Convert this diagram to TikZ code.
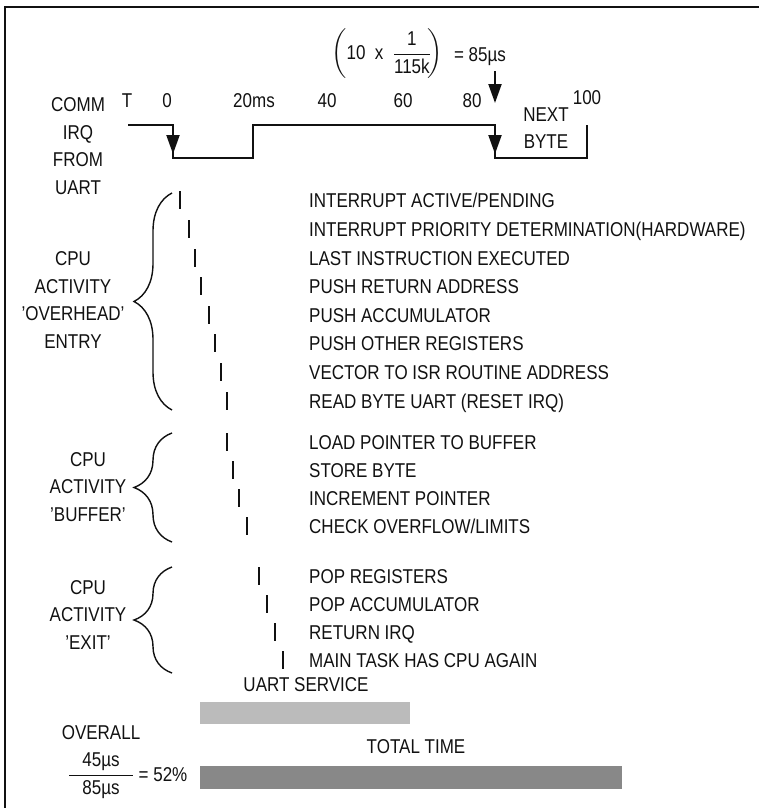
\documentclass[tikz,border=0pt]{standalone}
\usepackage{amsmath}
\usepackage{fontspec}
\setmainfont[FakeStretch=0.85]{Liberation Sans}
\usepackage{tikz}
\usetikzlibrary{positioning,arrows.meta,decorations.pathreplacing}
\definecolor{ink}    {HTML}{111111}
\definecolor{svcgray}{HTML}{BBBBBB}
\definecolor{totgray}{HTML}{888888}
\tikzset{
  every node/.style={font=\fontsize{20}{27.5}\selectfont, text=ink, inner sep=0pt},
  % --- text
  act/.style  = {anchor=base west},
  side/.style = {align=center},
  tlbl/.style = {anchor=base},
  % --- lines
  sig/.style  = {draw=ink, line width=2pt},
  tk/.style   = {draw=ink, line width=2pt},
  brc/.style  = {draw=ink, line width=1.4pt, decorate, decoration={brace, amplitude=38pt}},
  hd/.style   = {-{Triangle[length=19pt,width=13pt]}, draw=ink, line width=2pt},
  bar/.style  = {anchor=north west, minimum height=22pt},
}

\begin{document}
\begin{tikzpicture}[x=1pt, y=-1pt]
  \useasboundingbox (0,0) rectangle (759,808);
  \draw[line width=2.5pt, draw=ink] (5,808) -- (5,7) -- (759,7);

  % --- formula
  \node (frml) at (387,54) {$\left(\text{10\ \ x\ \ }\dfrac{\text{1}}{\text{115k}}\!\right)$};
  \node (frmr) at (480,57) {= 85µs};
  \coordinate (nb) at (495,103);
  \draw[hd] ([yshift=-5pt]frmr.south -| nb) -- (nb);

  % --- time axis
  \node[tlbl] (tT)   at (127,107) {T};
  \node[tlbl] (t0)   at (167,107) {0};
  \node[tlbl] (t20)  at (254,107) {20ms};
  \node[tlbl] (t40)  at (327,107) {40};
  \node[tlbl] (t60)  at (403,107) {60};
  \node[tlbl] (t80)  at (472,107) {80};
  \node[tlbl] (t100) at (587,104) {100};

  \node[side] (comm) at (78,146) {COMM\\IRQ\\FROM\\UART};
  \node[side] (nxt)  at (546,128) {NEXT\\BYTE};

  % --- IRQ line
  \draw[sig] (128,125) -- (173,125) -- (173,158) -- (253,158) -- (253,125)
             -- (495,125) -- (495,158) -- (587,158) -- (587,125);
  \draw[hd] (173,125) -- (173,154);
  \draw[hd] (495,125) -- (495,154);

  % --- overhead entry
  \node[side] (ovh) at (73,300) {CPU\\ACTIVITY\\'OVERHEAD'\\ENTRY};
  \draw[brc] (172,410) -- (172,193);
  \node[act] (pend) at (309,207) {INTERRUPT ACTIVE/PENDING};
  \node[act] (prio) at (309,236) {INTERRUPT PRIORITY DETERMINATION(HARDWARE)};
  \node[act] (last) at (309,265) {LAST INSTRUCTION EXECUTED};
  \node[act] (pret) at (309,293) {PUSH RETURN ADDRESS};
  \node[act] (pacc) at (309,322) {PUSH ACCUMULATOR};
  \node[act] (poth) at (309,350) {PUSH OTHER REGISTERS};
  \node[act] (vec)  at (309,379) {VECTOR TO ISR ROUTINE ADDRESS};
  \node[act] (rdb)  at (309,408) {READ BYTE UART (RESET IRQ)};
  \draw[tk] (180,191) -- (180,209);
  \draw[tk] (189,220) -- (189,238);
  \draw[tk] (195,249) -- (195,267);
  \draw[tk] (201,277) -- (201,295);
  \draw[tk] (209,306) -- (209,324);
  \draw[tk] (215,334) -- (215,352);
  \draw[tk] (221,363) -- (221,381);
  \draw[tk] (227,392) -- (227,410);

  % --- buffer
  \node[side] (buf) at (88,487) {CPU\\ACTIVITY\\'BUFFER'};
  \draw[brc] (172,542) -- (172,433);
  \node[act] (ldp) at (309,449) {LOAD POINTER TO BUFFER};
  \node[act] (stb) at (309,477) {STORE BYTE};
  \node[act] (inc) at (309,505) {INCREMENT POINTER};
  \node[act] (chk) at (309,533) {CHECK OVERFLOW/LIMITS};
  \draw[tk] (227,433) -- (227,451);
  \draw[tk] (233,461) -- (233,479);
  \draw[tk] (239,489) -- (239,507);
  \draw[tk] (247,517) -- (247,535);

  % --- exit
  \node[side] (ext) at (88,615) {CPU\\ACTIVITY\\'EXIT'};
  \draw[brc] (172,673) -- (172,567);
  \node[act] (popr) at (309,583) {POP REGISTERS};
  \node[act] (popa) at (309,611) {POP ACCUMULATOR};
  \node[act] (reti) at (309,639) {RETURN IRQ};
  \node[act] (mtk)  at (309,667) {MAIN TASK HAS CPU AGAIN};
  \draw[tk] (259,567) -- (259,585);
  \draw[tk] (267,595) -- (267,613);
  \draw[tk] (275,623) -- (275,641);
  \draw[tk] (283,651) -- (283,669);

  % --- totals
  \node (svcl) at (306,685) {UART SERVICE};
  \node[bar, fill=svcgray, minimum width=210pt] (svc) at (200,702) {};
  \node (totl) at (416,747) {TOTAL TIME};
  \node[bar, fill=totgray, minimum width=422pt, minimum height=23pt] (tot) at (200,766) {};
  \node (ovl) at (101,733) {OVERALL};
  \node (frac) at (101,776) {$\dfrac{\makebox[64pt]{45µs}}{\text{85µs}}$};
  \node (pct) at (163,775) {= 52\%};
\end{tikzpicture}
\end{document}
